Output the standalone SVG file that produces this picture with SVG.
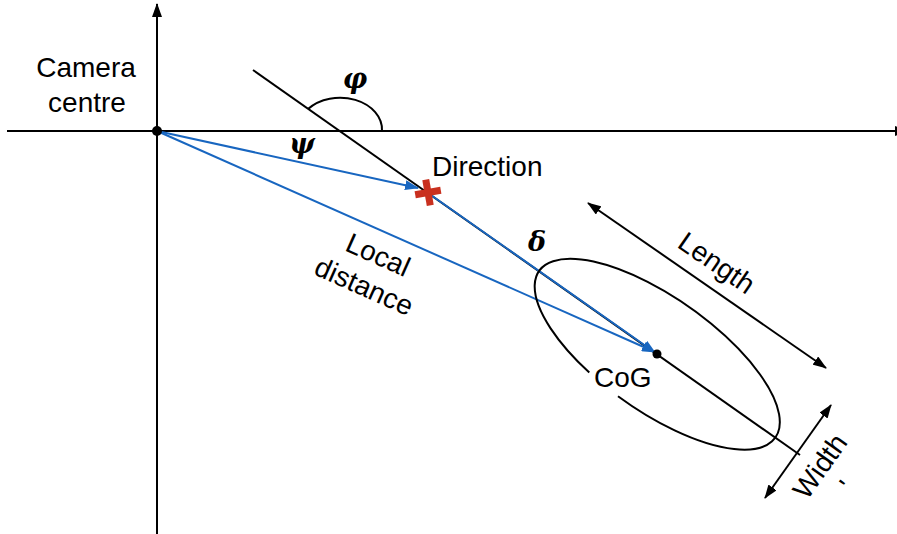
<svg xmlns="http://www.w3.org/2000/svg" width="897" height="534" viewBox="0 0 897 534">
<style>
.ln{stroke:#000;stroke-width:2;fill:none}
.bl{stroke:#1866c0;stroke-width:2;fill:none}
.t{font-family:"Liberation Sans",Arial,Helvetica,sans-serif;font-size:28px;fill:#000}
.g{font-family:"DejaVu Serif","Liberation Serif",serif;font-size:27px;font-weight:bold;font-style:italic;fill:#000}
</style>
<defs>
<marker id="ak" viewBox="0 0 14 10" refX="13" refY="5" markerWidth="14" markerHeight="10" orient="auto-start-reverse" markerUnits="userSpaceOnUse"><path d="M0,0 L14,5 L0,10 z" fill="#000"/></marker>
<marker id="ab" viewBox="0 0 14 10" refX="13" refY="5" markerWidth="14" markerHeight="10" orient="auto" markerUnits="userSpaceOnUse"><path d="M0,0 L14,5 L0,10 z" fill="#1866c0"/></marker>
</defs>
<rect width="897" height="534" fill="#fff"/>
<g id="connectors">
<line class="ln" x1="7" y1="131" x2="908" y2="131" marker-end="url(#ak)"/>
<line class="ln" x1="157" y1="534" x2="157" y2="4" marker-end="url(#ak)"/>
<line class="ln" x1="253" y1="70" x2="800" y2="455"/>
<path class="ln" d="M308,109 A42,32 0 0 1 382,131"/>
<line class="bl" x1="157" y1="131" x2="418" y2="188" marker-end="url(#ab)"/>
<line class="bl" x1="157" y1="131" x2="655" y2="352" marker-end="url(#ab)"/>
<line class="bl" x1="428" y1="193" x2="655" y2="352.5" marker-end="url(#ab)"/>
<line class="ln" x1="588" y1="203" x2="826" y2="368" marker-start="url(#ak)" marker-end="url(#ak)"/>
<line class="ln" x1="831" y1="405" x2="765" y2="498" marker-start="url(#ak)" marker-end="url(#ak)"/>
</g>
<g id="ellipse">
<path class="ln" d="M589.3,372.6 A144.5,57 35.2 1 1 618,396.2"/>
</g>
<g id="camera-centre">
<circle cx="157" cy="131" r="5" fill="#000"/>
<text class="t" x="86" y="77" text-anchor="middle">Camera</text>
<text class="t" x="87" y="112" text-anchor="middle">centre</text>
</g>
<g id="direction">
<g transform="translate(428,192.5) rotate(-10)">
<line x1="-13" y1="0" x2="13" y2="0" stroke="#c9301f" stroke-width="7"/>
<line x1="0" y1="-13" x2="0" y2="13" stroke="#c9301f" stroke-width="7"/>
</g>
<text class="t" x="432" y="176">Direction</text>
</g>
<g id="cog">
<circle cx="657" cy="354" r="4.5" fill="#000"/>
<text class="t" x="594" y="387">CoG</text>
</g>
<g id="labels">
<text class="g" x="355" y="88" text-anchor="middle">φ</text>
<text class="g" x="302" y="153" text-anchor="middle">ψ</text>
<text class="g" x="537" y="251" text-anchor="middle">δ</text>
<g transform="translate(343.6,250) rotate(24)">
<text class="t" x="33.5" y="0" text-anchor="middle">Local</text>
<text class="t" x="33.5" y="34.4" text-anchor="middle">distance</text>
</g>
<text class="t" transform="translate(711.3,270.7) rotate(34.5)" text-anchor="middle">Length</text>
<g transform="translate(827.7,471.8) rotate(-54.6)">
<text class="t" x="0" y="0" text-anchor="middle">Width</text>
<text class="t" x="0" y="34" text-anchor="middle">'</text>
</g>
</g>
</svg>
